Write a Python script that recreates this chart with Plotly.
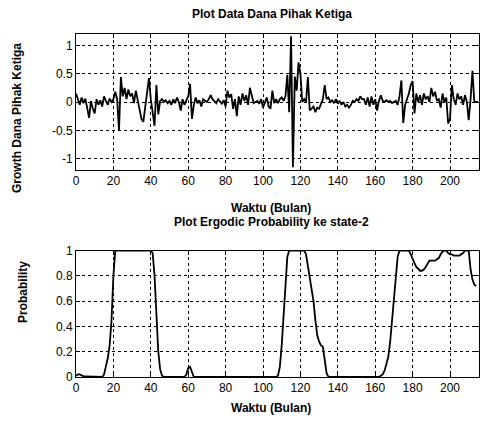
import plotly.graph_objects as go

# ---- data: top panel (growth of third-party funds), months 0..215
growth = [
    0.15, 0.05, -0.05, 0.08, -0.02, 0.06, -0.10, -0.28, 0.02, -0.12,
    -0.20, 0.05, -0.05, 0.03, -0.08, 0.10, 0.02, -0.05, 0.06, 0.00,
    0.05, 0.18, 0.05, -0.50, 0.44, 0.10, 0.25, 0.05, 0.22, 0.10,
    0.15, -0.02, 0.20, 0.05, -0.15, -0.30, -0.35, -0.10, 0.20, 0.42,
    0.05, -0.20, -0.42, 0.30, -0.22, 0.02, 0.05, 0.00, 0.03, -0.02,
    0.02, -0.05, 0.05, -0.02, 0.08, 0.00, -0.15, 0.05, -0.05, 0.03,
    0.10, 0.32, -0.30, -0.05, 0.08, -0.02, 0.03, -0.08, 0.05, 0.02,
    0.00, 0.05, 0.12, 0.05, 0.02, -0.02, 0.05, 0.00, -0.03, 0.03,
    -0.08, 0.20, 0.08, 0.14, -0.12, 0.05, -0.25, 0.10, -0.05, 0.15,
    0.02, 0.12, -0.05, 0.25, 0.10, -0.02, 0.00, 0.02, -0.03, 0.05,
    -0.10, 0.00, 0.08, -0.08, -0.12, 0.20, -0.02, 0.05, -0.02, 0.05,
    0.08, 0.02, 0.10, 0.48, -0.18, 1.16, -1.15, 0.45, 0.20, 0.70,
    0.50, 0.00, 0.05, 0.00, 0.44, -0.15, -0.12, -0.08, -0.18, -0.10,
    -0.12, -0.05, 0.05, 0.30, 0.05, 0.08, 0.00, 0.03, -0.02, 0.05,
    -0.03, 0.02, -0.05, 0.00, -0.08, -0.05, -0.10, -0.05, 0.02, 0.00,
    0.05, 0.02, 0.10, 0.05, 0.05, -0.05, 0.08, -0.08, 0.10, -0.05,
    0.05, -0.15, 0.02, 0.12, 0.02, 0.00, 0.03, 0.00, 0.02, -0.02,
    0.00, 0.02, -0.05, 0.10, 0.38, -0.37, -0.05, 0.05, 0.15, 0.30,
    0.37, -0.20, 0.15, 0.00, 0.12, -0.05, 0.15, 0.05, 0.10, 0.00,
    0.25, 0.10, 0.18, 0.02, 0.05, -0.10, 0.15, 0.00, 0.08, -0.38,
    -0.30, 0.30, 0.05, -0.05, 0.15, 0.05, 0.10, -0.05, 0.12, 0.00,
    -0.32, 0.05, 0.55, 0.00, 0.00, 0.00,
]
months_top = list(range(len(growth)))

# ---- data: bottom panel (ergodic probability of state 2), months 0..214
prob = [
    0.01, 0.02, 0.02, 0.01, 0.005, 0.005, 0.005, 0.005, 0.005, 0.005,
    0.005, 0.005, 0.005, 0.005, 0.0, 0.02, 0.08, 0.15, 0.25, 0.45,
    0.80, 1.0, 1.0, 1.0, 1.0, 1.0, 1.0, 1.0, 1.0, 1.0,
    1.0, 1.0, 1.0, 1.0, 1.0, 1.0, 1.0, 1.0, 1.0, 1.0,
    1.0, 0.98, 0.80, 0.50, 0.20, 0.06, 0.01, 0.0, 0.0, 0.0,
    0.0, 0.0, 0.0, 0.0, 0.0, 0.0, 0.0, 0.0, 0.0, 0.02,
    0.07, 0.08, 0.03, 0.0, 0.0, 0.0, 0.0, 0.0, 0.0, 0.0,
    0.0, 0.0, 0.0, 0.0, 0.0, 0.0, 0.0, 0.0, 0.0, 0.0,
    0.0, 0.0, 0.0, 0.0, 0.0, 0.0, 0.0, 0.0, 0.0, 0.0,
    0.0, 0.0, 0.0, 0.0, 0.0, 0.0, 0.0, 0.0, 0.0, 0.0,
    0.0, 0.0, 0.0, 0.0, 0.0, 0.0, 0.0, 0.0, 0.01, 0.08,
    0.25, 0.50, 0.75, 0.95, 1.0, 1.0, 1.0, 1.0, 1.0, 1.0,
    1.0, 1.0, 1.0, 0.97, 0.88, 0.80, 0.70, 0.60, 0.45, 0.33,
    0.28, 0.25, 0.24, 0.12, 0.03, 0.0, 0.0, 0.0, 0.0, 0.0,
    0.0, 0.0, 0.0, 0.0, 0.0, 0.0, 0.0, 0.0, 0.0, 0.0,
    0.0, 0.0, 0.0, 0.0, 0.0, 0.0, 0.0, 0.0, 0.0, 0.0,
    0.0, 0.0, 0.0, 0.01, 0.02, 0.05, 0.10, 0.16, 0.28, 0.45,
    0.65, 0.80, 0.95, 1.0, 1.0, 1.0, 1.0, 1.0, 1.0, 0.97,
    0.93, 0.90, 0.87, 0.85, 0.84, 0.84, 0.85, 0.87, 0.90, 0.92,
    0.92, 0.92, 0.92, 0.93, 0.94, 0.97, 0.99, 1.0, 1.0, 0.98,
    0.97, 0.97, 0.96, 0.96, 0.96, 0.96, 0.97, 0.98, 1.0, 1.0,
    1.0, 0.85, 0.77, 0.73, 0.72,
]
months_bot = list(range(len(prob)))

x_ticks = [0, 20, 40, 60, 80, 100, 120, 140, 160, 180, 200]
x_ticktext = ["0", "20", "40", "60", "80", "100", "120", "140", "160", "180", "200"]
top_yticks = [-1, -0.5, 0, 0.5, 1]
top_yticktext = ["-1", "-0.5", "0", "0.5", "1"]
bot_yticks = [0, 0.2, 0.4, 0.6, 0.8, 1]
bot_yticktext = ["0", "0.2", "0.4", "0.6", "0.8", "1"]

FONT = "Liberation Sans, Arial, sans-serif"

fig = go.Figure()
fig.add_trace(go.Scatter(x=months_top, y=growth, mode="lines",
                         line=dict(color="black", width=1.8),
                         xaxis="x", yaxis="y", showlegend=False))
fig.add_trace(go.Scatter(x=months_bot, y=prob, mode="lines",
                         line=dict(color="black", width=1.8),
                         xaxis="x2", yaxis="y2", showlegend=False))

axis_common = dict(
    showline=True, linecolor="black", linewidth=1, mirror="allticks",
    ticks="inside", ticklen=4, tickcolor="black",
    showgrid=True, gridcolor="black", gridwidth=1, griddash="3px,3px",
    zeroline=False, tickfont=dict(family=FONT, size=12, color="black"),
)

fig.update_layout(
    width=484, height=428,
    margin=dict(l=76, r=5, t=34, b=51),
    paper_bgcolor="white", plot_bgcolor="white",
    xaxis=dict(domain=[0, 1], range=[0, 215.5], tickvals=x_ticks,
               ticktext=x_ticktext, anchor="y", **axis_common),
    yaxis=dict(domain=[0.6035, 1.0], range=[-1.2, 1.2], tickvals=top_yticks,
               ticktext=top_yticktext, anchor="x", **axis_common),
    xaxis2=dict(domain=[0, 1], range=[0, 215.5], tickvals=x_ticks,
                ticktext=x_ticktext, anchor="y2", **axis_common),
    yaxis2=dict(domain=[0, 0.3688], range=[0, 1], tickvals=bot_yticks,
                ticktext=bot_yticktext, anchor="x2", **axis_common),
)

title_font = dict(family=FONT, size=12, color="black")


def px_x(px):
    return (px - 76) / (484 - 76 - 5)


def px_y(py):
    return (428 - 51 - py) / (428 - 34 - 51)


annots = [
    ("Plot Data Dana Pihak Ketiga", 272, 14, 0),
    ("Waktu (Bulan)", 271, 208, 0),
    ("Plot Ergodic Probability ke state-2", 271, 222, 0),
    ("Waktu (Bulan)", 271, 408, 0),
    ("Growth Dana Pihak Ketiga", 17, 118, -90),
    ("Probability", 23, 292, -90),
]
for text, ax_, ay_, rot in annots:
    fig.add_annotation(text="<b>%s</b>" % text, xref="paper", yref="paper",
                       x=px_x(ax_), y=px_y(ay_), xanchor="center",
                       yanchor="middle", showarrow=False, textangle=rot,
                       font=title_font)

fig.write_html("out.html",
               config={"displayModeBar": False},
               post_script="document.body.style.margin='0';"
                           "document.body.style.overflow='hidden';")
